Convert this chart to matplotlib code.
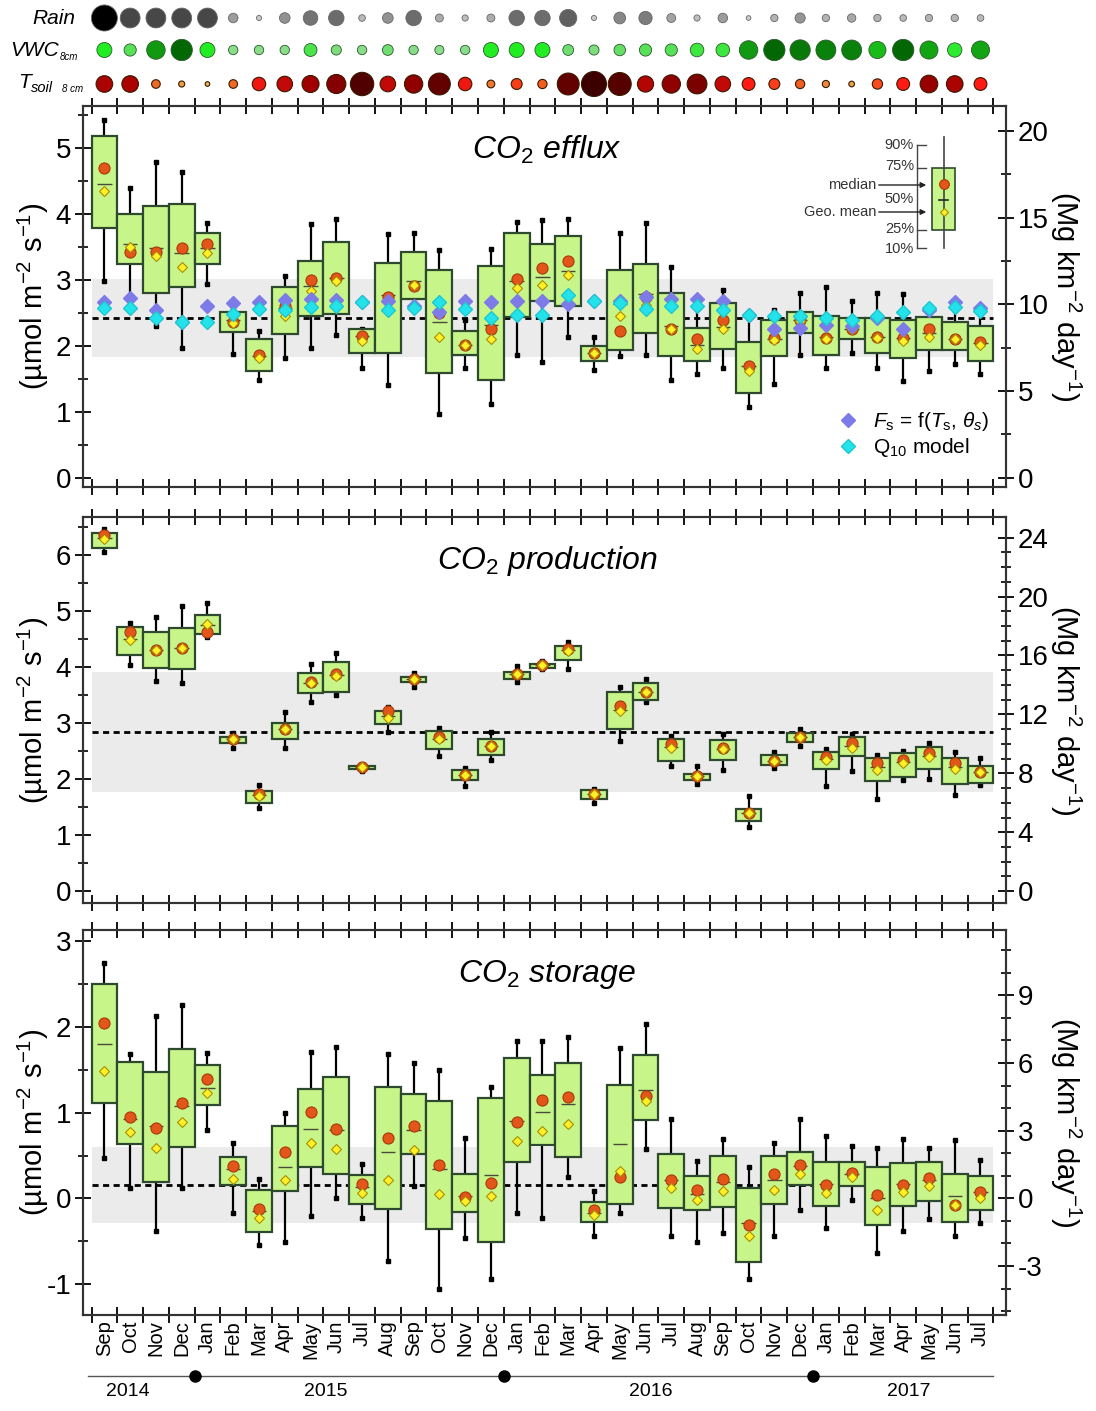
import numpy as np
import matplotlib.pyplot as plt
import matplotlib.transforms as mtransforms
from matplotlib.colors import LinearSegmentedColormap
from matplotlib.lines import Line2D

plt.rcParams['font.family'] = ['Liberation Sans', 'DejaVu Sans']
plt.rcParams['mathtext.fontset'] = 'custom'
plt.rcParams['mathtext.rm'] = 'Liberation Sans'
plt.rcParams['mathtext.it'] = 'Liberation Sans:italic'
plt.rcParams['mathtext.bf'] = 'Liberation Sans:bold'

# ---- data -------------------------------------------------------------
months = ['Sep', 'Oct', 'Nov', 'Dec', 'Jan', 'Feb', 'Mar', 'Apr', 'May', 'Jun', 'Jul', 'Aug',
          'Sep', 'Oct', 'Nov', 'Dec', 'Jan', 'Feb', 'Mar', 'Apr', 'May', 'Jun', 'Jul', 'Aug',
          'Sep', 'Oct', 'Nov', 'Dec', 'Jan', 'Feb', 'Mar', 'Apr', 'May', 'Jun', 'Jul']
years = ['2014', '2015', '2016', '2017']
year_label_pos = [1.4, 9.1, 21.7, 31.7]
year_breaks = [4, 16, 28]

# relative levels of the drivers (0 = low, 1 = high)
rain = [1.0, 0.72, 0.72, 0.72, 0.72, 0.25, 0.05, 0.3, 0.48, 0.52, 0.12, 0.3, 0.52, 0.18, 0.1, 0.18,
        0.52, 0.52, 0.6, 0.05, 0.35, 0.42, 0.22, 0.1, 0.25, 0.03, 0.15, 0.28, 0.15, 0.2, 0.15, 0.12,
        0.15, 0.15, 0.12]
vwc = [0.5, 0.3, 0.75, 0.95, 0.5, 0.1, 0.1, 0.1, 0.35, 0.15, 0.1, 0.2, 0.1, 0.08, 0.1, 0.5,
       0.5, 0.5, 0.2, 0.15, 0.25, 0.3, 0.3, 0.4, 0.4, 0.75, 0.95, 0.88, 0.85, 0.85, 0.65, 0.95,
       0.72, 0.45, 0.72]
tsoil = [0.6, 0.6, 0.22, 0.1, 0.03, 0.22, 0.45, 0.55, 0.62, 0.72, 0.92, 0.55, 0.68, 0.85, 0.45, 0.18,
         0.33, 0.25, 0.85, 1.0, 0.9, 0.58, 0.68, 0.75, 0.55, 0.42, 0.33, 0.25, 0.15, 0.08, 0.3, 0.42,
         0.65, 0.6, 0.42]

# CO2 efflux (umol m-2 s-1)
eff_p90 = [5.43, 4.40, 4.79, 4.64, 3.87, 2.55, 2.22, 3.06, 3.85, 3.92, 2.25, 3.70, 3.72, 3.45, 2.40, 3.47,
           3.88, 3.91, 3.92, 2.14, 3.72, 3.87, 3.20, 2.71, 2.85, 2.42, 2.55, 2.81, 2.89, 2.68, 2.80, 2.79,
           2.60, 2.55, 2.50]
eff_p75 = [5.18, 4.00, 4.12, 4.15, 3.72, 2.51, 2.10, 2.89, 3.29, 3.57, 2.25, 3.26, 3.42, 3.15, 2.22, 3.22,
           3.72, 3.55, 3.67, 2.00, 3.15, 3.24, 2.81, 2.27, 2.65, 2.06, 2.40, 2.52, 2.45, 2.42, 2.42, 2.40,
           2.44, 2.36, 2.30]
eff_p50 = [4.45, 3.54, 3.48, 3.41, 3.48, 2.40, 1.85, 2.58, 2.91, 3.03, 2.15, 2.78, 2.98, 2.37, 2.01, 2.32,
           2.98, 3.04, 3.13, 1.89, 2.64, 2.79, 2.30, 2.02, 2.29, 1.70, 2.11, 2.40, 2.14, 2.26, 2.14, 2.12,
           2.20, 2.11, 2.04]
eff_med = [4.70, 3.43, 3.42, 3.48, 3.55, 2.37, 1.86, 2.60, 3.00, 3.03, 2.15, 2.75, 2.91, 2.50, 2.02, 2.26,
           3.02, 3.18, 3.29, 1.90, 2.22, 2.74, 2.25, 2.11, 2.40, 1.70, 2.12, 2.40, 2.12, 2.26, 2.14, 2.12,
           2.25, 2.11, 2.06]
eff_geo = [4.35, 3.50, 3.36, 3.19, 3.41, 2.35, 1.82, 2.45, 2.84, 2.98, 2.07, 2.54, 2.93, 2.14, 2.01, 2.11,
           2.88, 2.93, 3.07, 1.89, 2.46, 2.62, 2.25, 1.96, 2.26, 1.62, 2.09, 2.38, 2.11, 2.26, 2.12, 2.07,
           2.14, 2.11, 2.01]
eff_p25 = [3.79, 3.24, 2.81, 2.89, 3.24, 2.21, 1.62, 2.18, 2.45, 2.49, 1.89, 1.89, 2.71, 1.59, 1.87, 1.49,
           2.44, 2.68, 2.60, 1.77, 1.94, 2.20, 1.84, 1.77, 1.96, 1.28, 1.85, 2.20, 1.87, 2.11, 1.89, 1.81,
           1.94, 1.94, 1.77]
eff_p10 = [2.98, 2.75, 2.30, 1.97, 2.94, 1.88, 1.48, 1.82, 1.97, 2.17, 1.67, 1.40, 2.65, 0.97, 1.67, 1.12,
           1.86, 1.75, 2.14, 1.63, 1.84, 1.86, 1.49, 1.57, 1.67, 1.07, 1.42, 1.87, 1.67, 1.89, 1.67, 1.47,
           1.62, 1.72, 1.57]
fs_model = [2.67, 2.72, 2.54, 2.37, 2.60, 2.65, 2.67, 2.69, 2.71, 2.70, 2.67, 2.68, 2.60, 2.52, 2.68, 2.66,
            2.68, 2.68, 2.64, 2.68, 2.68, 2.75, 2.71, 2.71, 2.68, 2.47, 2.25, 2.27, 2.32, 2.30, 2.42, 2.25,
            2.55, 2.66, 2.58]
q10_model = [2.58, 2.58, 2.42, 2.36, 2.36, 2.48, 2.56, 2.55, 2.59, 2.60, 2.67, 2.55, 2.58, 2.67, 2.56, 2.42,
             2.47, 2.47, 2.78, 2.68, 2.65, 2.56, 2.60, 2.60, 2.55, 2.47, 2.46, 2.46, 2.42, 2.40, 2.46, 2.51,
             2.58, 2.59, 2.53]
eff_band = (1.83, 3.01)
eff_mean = 2.42

# CO2 production
prod_p90 = [6.47, 4.79, 4.89, 5.10, 5.14, 2.83, 1.89, 3.20, 4.05, 4.25, 2.26, 3.28, 3.89, 2.92, 2.20, 2.85,
            4.02, 4.11, 4.44, 1.83, 3.64, 3.78, 2.77, 2.23, 2.80, 1.70, 2.49, 2.90, 2.54, 2.80, 2.44, 2.50,
            2.65, 2.49, 2.38]
prod_p75 = [6.39, 4.71, 4.63, 4.69, 4.93, 2.76, 1.79, 3.01, 3.90, 4.10, 2.23, 3.22, 3.83, 2.86, 2.16, 2.72,
            3.92, 4.06, 4.38, 1.80, 3.55, 3.72, 2.71, 2.10, 2.70, 1.46, 2.43, 2.82, 2.49, 2.75, 2.37, 2.47,
            2.58, 2.38, 2.23]
prod_p50 = [6.30, 4.50, 4.30, 4.34, 4.75, 2.71, 1.72, 2.89, 3.72, 3.86, 2.22, 3.12, 3.78, 2.72, 2.07, 2.59,
            3.87, 4.03, 4.30, 1.73, 3.24, 3.56, 2.57, 2.06, 2.54, 1.39, 2.32, 2.75, 2.36, 2.59, 2.22, 2.31,
            2.42, 2.22, 2.12]
prod_med = [6.35, 4.63, 4.30, 4.35, 4.63, 2.71, 1.73, 2.89, 3.74, 3.87, 2.22, 3.21, 3.78, 2.76, 2.07, 2.59,
            3.87, 4.03, 4.32, 1.73, 3.31, 3.56, 2.62, 2.06, 2.56, 1.39, 2.32, 2.75, 2.40, 2.65, 2.29, 2.35,
            2.47, 2.29, 2.12]
prod_geo = [6.28, 4.49, 4.30, 4.34, 4.77, 2.71, 1.70, 2.89, 3.71, 3.84, 2.22, 3.10, 3.78, 2.71, 2.07, 2.59,
            3.87, 4.03, 4.28, 1.73, 3.22, 3.56, 2.56, 2.06, 2.53, 1.39, 2.32, 2.75, 2.35, 2.56, 2.16, 2.29,
            2.40, 2.18, 2.12]
prod_p25 = [6.12, 4.21, 3.99, 3.97, 4.59, 2.64, 1.58, 2.72, 3.53, 3.56, 2.19, 2.98, 3.74, 2.53, 1.98, 2.44,
            3.78, 3.99, 4.13, 1.64, 2.89, 3.41, 2.32, 1.98, 2.34, 1.25, 2.25, 2.66, 2.18, 2.41, 1.97, 2.04,
            2.18, 1.92, 1.94]
prod_p10 = [6.05, 4.03, 3.75, 3.72, 4.53, 2.56, 1.48, 2.56, 3.37, 3.50, 2.15, 2.85, 3.64, 2.41, 1.87, 2.34,
            3.74, 3.96, 3.96, 1.58, 2.68, 3.38, 2.23, 1.92, 2.16, 1.14, 2.20, 2.59, 1.87, 2.15, 1.64, 1.98,
            2.00, 1.71, 1.89]
prod_band = (1.78, 3.92)
prod_mean = 2.85

# CO2 storage
sto_p90 = [2.74, 1.68, 2.13, 2.25, 1.70, 0.65, 0.23, 1.00, 1.71, 1.77, 0.40, 1.68, 1.58, 1.50, 0.70, 1.30,
           1.83, 1.83, 1.88, 0.09, 1.75, 2.03, 0.93, 0.44, 0.69, 0.37, 0.65, 0.92, 0.73, 0.61, 0.59, 0.69,
           0.59, 0.68, 0.45]
sto_p75 = [2.50, 1.59, 1.47, 1.74, 1.55, 0.48, 0.10, 0.84, 1.27, 1.42, 0.27, 1.30, 1.22, 1.13, 0.29, 1.17,
           1.64, 1.44, 1.58, -0.04, 1.32, 1.67, 0.52, 0.26, 0.50, 0.12, 0.49, 0.54, 0.42, 0.42, 0.37, 0.41,
           0.43, 0.28, 0.26]
sto_p50 = [1.80, 0.92, 0.84, 1.08, 1.29, 0.34, -0.15, 0.37, 0.81, 0.80, 0.13, 0.54, 0.80, 0.34, 0.03, 0.27,
           0.90, 1.01, 1.10, -0.17, 0.64, 1.26, 0.22, 0.05, 0.19, -0.29, 0.21, 0.38, 0.17, 0.29, 0.01, 0.17,
           0.21, 0.03, 0.08]
sto_med = [2.04, 0.95, 0.82, 1.11, 1.39, 0.38, -0.12, 0.54, 1.01, 0.81, 0.17, 0.70, 0.84, 0.39, 0.02, 0.18,
           0.89, 1.15, 1.18, -0.14, 0.25, 1.19, 0.21, 0.10, 0.23, -0.31, 0.29, 0.39, 0.16, 0.30, 0.04, 0.16,
           0.24, -0.08, 0.08]
sto_geo = [1.48, 0.78, 0.59, 0.89, 1.23, 0.23, -0.23, 0.21, 0.65, 0.58, 0.06, 0.21, 0.56, 0.05, -0.03, 0.03,
           0.67, 0.79, 0.87, -0.19, 0.32, 1.13, 0.12, -0.02, 0.09, -0.44, 0.10, 0.28, 0.06, 0.25, -0.13, 0.07,
           0.14, -0.08, 0.00]
sto_p25 = [1.11, 0.63, 0.19, 0.60, 1.09, 0.16, -0.39, 0.09, 0.37, 0.28, -0.06, -0.12, 0.52, -0.36, -0.16, -0.51,
           0.43, 0.62, 0.48, -0.28, -0.07, 0.91, -0.11, -0.13, -0.10, -0.74, -0.06, 0.16, -0.09, 0.14, -0.31, -0.09,
           -0.03, -0.27, -0.14]
sto_p10 = [0.47, 0.12, -0.38, 0.12, 0.80, -0.17, -0.54, -0.51, -0.21, 0.01, -0.23, -0.73, 0.14, -1.06, -0.46, -0.94,
           -0.17, -0.23, 0.25, -0.44, -0.17, 0.58, -0.44, -0.51, -0.40, -0.94, -0.44, -0.14, -0.34, -0.02, -0.64, -0.38,
           -0.24, -0.44, -0.29]
sto_band = (-0.29, 0.60)
sto_mean = 0.16

MG = 3.8016  # umol CO2 m-2 s-1 -> Mg CO2 km-2 day-1

# ---- style --------------------------------------------------------------
BOX = '#c8f58a'
EDGE = '#2e4a2e'
CIRC = '#e2561a'
DIAM = '#fff02a'
PURP = '#7d7be8'
CYAN = '#24e2ea'
W, H = 1096, 1411
XL, XR = 83, 1006

fig = plt.figure(figsize=(W / 100, H / 100), dpi=100)


def px_axes(left, top, right, bottom, **kw):
    return fig.add_axes([left / W, 1 - bottom / H, (right - left) / W, (bottom - top) / H], **kw)


n = len(months)
x = np.arange(n) + 0.5
xlim = (-0.33, 35.49)


def draw_panel(ax, p10, p25, p50, p75, p90, med, geo, band, mean):
    p10, p25, p50, p75, p90 = map(np.asarray, (p10, p25, p50, p75, p90))
    ax.fill_between([0, n], band[0], band[1], color='#ebebeb', lw=0, zorder=0)
    ax.plot([0, n], [mean, mean], color='k', ls=(0, (2.2, 1.6)), lw=2, zorder=1)
    ax.vlines(x, p10, p90, color='k', lw=1.6, zorder=2)
    ax.plot(x, p10, 's', color='k', ms=2.3, zorder=2)
    ax.plot(x, p90, 's', color='k', ms=2.3, zorder=2)
    ax.bar(x, p75 - p25, bottom=p25, width=1.0, color=BOX, edgecolor=EDGE, lw=1.6, zorder=3)
    ax.hlines(p50, x - 0.28, x + 0.28, color='#4a4a3a', lw=1.0, zorder=4)
    ax.plot(x, med, 'o', color=CIRC, mec='#a83a0c', mew=0.8, ms=8, zorder=5)
    ax.plot(x, geo, 'D', color=DIAM, mec='#a88c00', mew=0.8, ms=5.2, zorder=6)


def style_axes(ax, ylim, major, minor, rmajor, rminor, title, show_months):
    ax.set_xlim(xlim)
    ax.set_ylim(ylim)
    ax.set_xticks(np.arange(n + 1))
    ax.set_xticks(x, minor=True)
    ax.set_xticklabels([])
    if show_months:
        ax.set_xticklabels(months, minor=True, rotation=90, fontsize=14.5)
    ax.set_yticks(major)
    ax.set_yticks(minor, minor=True)
    ax.set_yticklabels([str(v) for v in major], fontsize=20)
    ax.tick_params(axis='x', which='major', direction='inout', length=11, width=1.3, top=True, bottom=True)
    ax.tick_params(axis='x', which='minor', length=0, pad=4)
    ax.tick_params(axis='y', which='major', direction='inout', length=11, width=1.3, right=False, pad=3)
    ax.tick_params(axis='y', which='minor', direction='inout', length=7, width=1.2, right=False)
    for s in ax.spines.values():
        s.set_linewidth(1.5)
        s.set_color('#333333')
    ax2 = ax.twinx()
    ax2.set_ylim(ylim[0] * MG, ylim[1] * MG)
    ax2.set_yticks(rmajor)
    ax2.set_yticks(rminor, minor=True)
    ax2.set_yticklabels([str(v) for v in rmajor], fontsize=20)
    ax2.tick_params(axis='y', which='major', direction='inout', length=11, width=1.3, pad=3)
    ax2.tick_params(axis='y', which='minor', direction='inout', length=7, width=1.2)
    for s in ax2.spines.values():
        s.set_linewidth(1.5)
        s.set_color('#333333')
    ax.text(0.503, 0.885, title, transform=ax.transAxes, ha='center', va='center',
            fontsize=23, style='italic')
    return ax2


# ---- panels ----------------------------------------------------------------
ax1 = px_axes(XL, 106, XR, 487)
draw_panel(ax1, eff_p10, eff_p25, eff_p50, eff_p75, eff_p90, eff_med, eff_geo, eff_band, eff_mean)
ax1.plot(x, fs_model, 'D', color=PURP, mec=PURP, ms=7.2, zorder=7)
ax1.plot(x, q10_model, 'D', color=CYAN, mec='#1cc8d0', ms=7.2, zorder=8)
style_axes(ax1, (-0.14, 5.64), [0, 1, 2, 3, 4, 5], np.arange(0, 5.6, 0.5),
           [0, 5, 10, 15, 20], np.arange(0, 21, 2.5), 'CO$_2$ efflux', False)
handles = [Line2D([], [], ls='none', marker='D', color=PURP, ms=7.2),
           Line2D([], [], ls='none', marker='D', color=CYAN, mec='#1cc8d0', ms=7.2)]
ax1.legend(handles, [r'$F_\mathrm{s}$ = f($T_\mathrm{s}$, $\theta_s$)', r'Q$_{10}$ model'],
           loc='upper left', bbox_to_anchor=((838 - XL) / 923, (487 - 410) / 381),
           frameon=False, fontsize=15, handlelength=1.0, handletextpad=0.7,
           labelspacing=0.15, borderpad=0, borderaxespad=0)

ax2 = px_axes(XL, 517, XR, 903)
draw_panel(ax2, prod_p10, prod_p25, prod_p50, prod_p75, prod_p90, prod_med, prod_geo, prod_band, prod_mean)
style_axes(ax2, (-0.21, 6.68), [0, 1, 2, 3, 4, 5, 6], np.arange(0, 6.6, 0.5),
           [0, 4, 8, 12, 16, 20, 24], np.arange(0, 25, 1), 'CO$_2$ production', False)

ax3 = px_axes(XL, 930, XR, 1315)
draw_panel(ax3, sto_p10, sto_p25, sto_p50, sto_p75, sto_p90, sto_med, sto_geo, sto_band, sto_mean)
style_axes(ax3, (-1.36, 3.13), [-1, 0, 1, 2, 3], np.arange(-1, 3.1, 0.5),
           [-3, 0, 3, 6, 9], np.arange(-5, 12, 1), 'CO$_2$ storage', True)

# year timeline under the month labels
trans = mtransforms.blended_transform_factory(ax3.transData, ax3.transAxes)
ax3.plot([-0.15, n], [-0.158, -0.158], color='#555555', lw=1, transform=trans, clip_on=False)
ax3.plot(year_breaks, [-0.158] * len(year_breaks), 'o', color='k', ms=8, transform=trans, clip_on=False)
for yl, xp in zip(years, year_label_pos):
    ax3.text(xp, -0.2, yl, transform=trans, ha='center', va='center', fontsize=14)

# ---- driver rows on top ------------------------------------------------------
axd = px_axes(XL, 0, XR, 100)
axd.set_xlim(xlim)
axd.set_ylim(100, 0)
axd.axis('off')

rain_cmap = LinearSegmentedColormap.from_list('rain', ['#d4d4d4', '#8a8a8a', '#555555', '#000000'])
vwc_cmap = LinearSegmentedColormap.from_list('vwc', ['#a0dca0', '#66dd66', '#22ee22', '#119a11', '#005c00'])
ts_cmap = LinearSegmentedColormap.from_list(
    'ts', [(0.0, '#e8c464'), (0.22, '#ee6a24'), (0.42, '#ff1a14'), (0.62, '#a00000'), (1.0, '#3c0000')])

rain = np.asarray(rain)
vwc = np.asarray(vwc)
tsoil = np.asarray(tsoil)
axd.scatter(x, np.full(n, 18), s=((4 + 22 * rain) * 0.72) ** 2, c=rain_cmap(rain),
            edgecolors='#666666', linewidths=0.6)
axd.scatter(x, np.full(n, 50), s=((8 + 14 * vwc) * 0.72) ** 2, c=vwc_cmap(vwc),
            edgecolors='#2a5a2a', linewidths=0.6)
axd.scatter(x, np.full(n, 84), s=((4 + 21 * tsoil) * 0.72) ** 2, c=ts_cmap(tsoil),
            edgecolors='#3a1a00', linewidths=0.8)

# ---- overlay for labels and box legend --------------------------------------------
ov = fig.add_axes([0, 0, 1, 1], zorder=10)
ov.set_xlim(0, W)
ov.set_ylim(H, 0)
ov.axis('off')

ov.text(75, 18, 'Rain', ha='right', va='center', fontsize=15, style='italic')
ov.text(59, 50, 'VWC', ha='right', va='center', fontsize=15, style='italic')
ov.text(60, 57, '8cm', ha='left', va='center', fontsize=7, style='italic')
ov.text(31, 82, 'T', ha='right', va='center', fontsize=15, style='italic')
ov.text(31, 88, 'soil', ha='left', va='center', fontsize=10.5, style='italic')
ov.text(62, 89, '8 cm', ha='left', va='center', fontsize=7, style='italic')

ylab_l = r'(µmol m$^{-2}$ s$^{-1}$)'
ylab_r = r'(Mg km$^{-2}$ day$^{-1}$)'
for top, bot in [(106, 487), (517, 903), (930, 1315)]:
    ov.text(33, (top + bot) / 2, ylab_l, rotation=90, ha='center', va='center', fontsize=21)
    ov.text(1066, (top + bot) / 2, ylab_r, rotation=270, ha='center', va='center', fontsize=21)

# box legend
ov.plot([917, 917], [145, 248], color='#444444', lw=1)
for yy in [145, 168, 230, 248]:
    ov.plot([917, 926], [yy, yy], color='#444444', lw=1)
for lab, yy in [('90%', 145), ('75%', 166), ('50%', 199), ('25%', 229), ('10%', 249)]:
    ov.text(914, yy, lab, ha='right', va='center', fontsize=10.5, color='#333333')
ov.plot([943.5, 943.5], [137, 248], color='#444444', lw=1.2)
ov.add_patch(plt.Rectangle((932, 168), 23, 62, facecolor=BOX, edgecolor=EDGE, lw=1.2))
ov.plot(943.5, 184, 'o', color=CIRC, mec='#a83a0c', mew=0.8, ms=7)
ov.plot([939, 948], [199.5, 199.5], color='#222222', lw=1.2)
ov.plot(943.5, 212, 'D', color=DIAM, mec='#a88c00', mew=0.8, ms=4.5)
for lab, yy in [('median', 185), ('Geo. mean', 212)]:
    ov.text(876, yy, lab, ha='right', va='center', fontsize=10.5, color='#333333')
    ov.annotate('', xy=(929, yy), xytext=(876, yy),
                arrowprops=dict(arrowstyle='-|>', color='#222222', lw=1, mutation_scale=8))

fig.savefig('out.png', dpi=100)
